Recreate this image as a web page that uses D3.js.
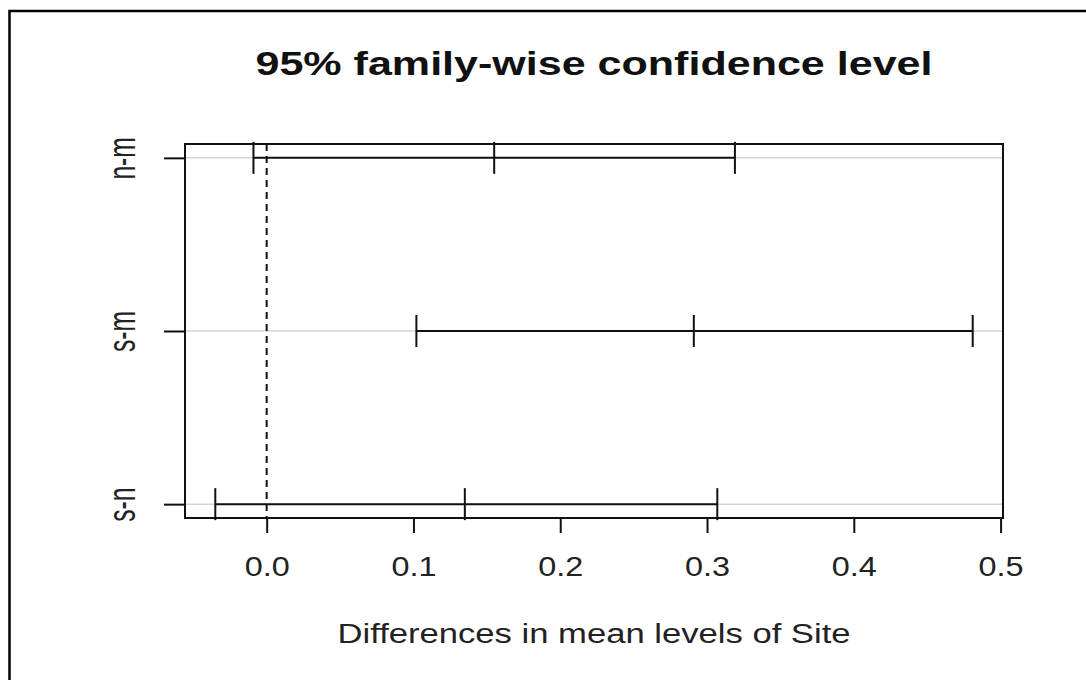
<!DOCTYPE html>
<html>
<head>
<meta charset="utf-8">
<script src="https://cdn.jsdelivr.net/npm/d3@7"></script>
<style>
  body { margin: 0; background: #fff; }
  svg { display: block; font-family: "Liberation Sans", Arial, sans-serif; }
</style>
</head>
<body>
<svg id="chart" width="1086" height="680"></svg>
<script>
// Tukey HSD intervals
const comparisons = ["n-m", "s-m", "s-n"];
const diff  = [0.155, 0.291, 0.135];
const lower = [-0.009, 0.102, -0.035];
const upper = [0.319, 0.481, 0.307];
const xTicks = [0, 0.1, 0.2, 0.3, 0.4, 0.5];

const svg = d3.select("#chart");
const box = {left: 185, right: 1003, top: 144, bottom: 518};

// R style: 4% padding round the data range
const lo = d3.min(lower), hi = d3.max(upper);
const pad = (hi - lo) * 0.04;
const x = d3.scaleLinear().domain([lo - pad, hi + pad]).range([box.left, box.right]);
const n = comparisons.length;
const y = d3.scaleLinear().domain([1 - 0.08, n + 0.08]).range([box.bottom, box.top]);
const rowOf = i => n - i;

// outer frame of the screenshot
svg.append("rect")
  .attr("x", 9.5).attr("y", 11)
  .attr("width", 1200).attr("height", 800)
  .attr("fill", "none").attr("stroke", "#000").attr("stroke-width", 2.5);

// grid lines at each comparison
svg.append("g").selectAll("line").data(comparisons).enter().append("line")
  .attr("x1", box.left).attr("x2", box.right)
  .attr("y1", (d, i) => y(rowOf(i))).attr("y2", (d, i) => y(rowOf(i)))
  .attr("stroke", "#d4d4d4").attr("stroke-width", 1.5);

// zero line
svg.append("line")
  .attr("x1", x(0)).attr("x2", x(0))
  .attr("y1", box.top).attr("y2", box.bottom)
  .attr("stroke", "#111").attr("stroke-width", 2)
  .attr("stroke-dasharray", "7,5");

// intervals
const rows = svg.append("g").selectAll("g").data(comparisons).enter().append("g")
  .attr("transform", (d, i) => `translate(0,${y(rowOf(i))})`);
rows.append("line")
  .attr("x1", (d, i) => x(lower[i])).attr("x2", (d, i) => x(upper[i]))
  .attr("stroke", "#111").attr("stroke-width", 2);
[lower, diff, upper].forEach(arr => {
  rows.append("line")
    .attr("x1", (d, i) => x(arr[i])).attr("x2", (d, i) => x(arr[i]))
    .attr("y1", -16).attr("y2", 16)
    .attr("stroke", "#111").attr("stroke-width", 2);
});

// plot box
svg.append("rect")
  .attr("x", box.left).attr("y", box.top)
  .attr("width", box.right - box.left).attr("height", box.bottom - box.top)
  .attr("fill", "none").attr("stroke", "#111").attr("stroke-width", 2);

// x axis
const xAxis = svg.append("g")
  .attr("transform", `translate(0,${box.bottom})`)
  .call(d3.axisBottom(x).tickValues(xTicks).tickSize(15).tickPadding(24)
    .tickFormat(d3.format(".1f")));
xAxis.select(".domain").remove();
xAxis.selectAll(".tick line").attr("stroke", "#111").attr("stroke-width", 2);
xAxis.selectAll(".tick text")
  .attr("font-size", 27).attr("font-family", "Liberation Sans, Arial, sans-serif")
  .attr("fill", "#222").attr("transform", "scale(1.2,1)");

// y axis
const yAxis = svg.append("g")
  .attr("transform", `translate(${box.left},0)`)
  .call(d3.axisLeft(y).tickValues(comparisons.map((d, i) => rowOf(i))).tickSize(21)
    .tickFormat(v => comparisons[n - v]));
yAxis.select(".domain").remove();
yAxis.selectAll(".tick line").attr("stroke", "#111").attr("stroke-width", 2);
yAxis.selectAll(".tick text")
  .attr("x", 0).attr("y", 0).attr("dy", null)
  .attr("text-anchor", "middle")
  .attr("font-size", 26).attr("font-family", "Liberation Sans, Arial, sans-serif")
  .attr("fill", "#222")
  .attr("transform", "translate(-50,0) rotate(-90) scale(0.95,1.5)");

// title and axis label
svg.append("text")
  .attr("x", 594).attr("y", 75)
  .attr("text-anchor", "middle")
  .attr("font-size", 33).attr("font-weight", "bold")
  .attr("textLength", 677).attr("lengthAdjust", "spacingAndGlyphs")
  .attr("fill", "#111")
  .text("95% family-wise confidence level");

svg.append("text")
  .attr("x", 594).attr("y", 643)
  .attr("text-anchor", "middle")
  .attr("font-size", 27)
  .attr("textLength", 513).attr("lengthAdjust", "spacingAndGlyphs")
  .attr("fill", "#222")
  .text("Differences in mean levels of Site");
</script>
</body>
</html>
